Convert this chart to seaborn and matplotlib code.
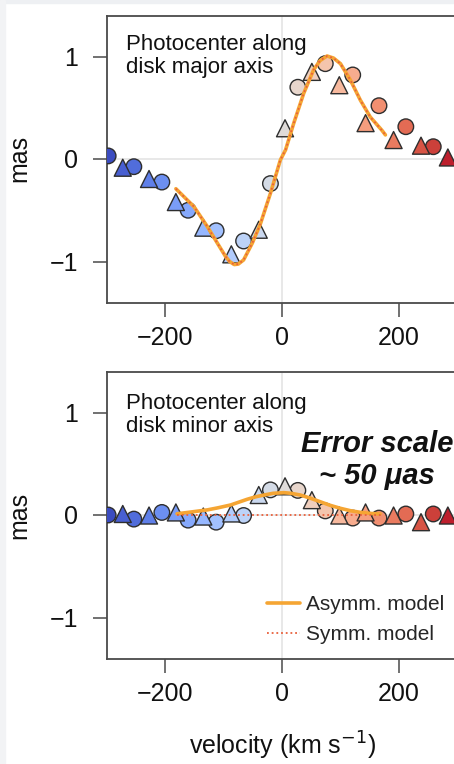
import matplotlib
matplotlib.use("Agg")
import matplotlib.pyplot as plt
from matplotlib.lines import Line2D
from matplotlib.patches import Rectangle
import seaborn as sns
import pandas as pd

# ---------------- data ----------------
circ_v = [-298, -254, -206, -161, -113, -66, -20, 27, 74, 121, 166, 212, 259]
tri_v = [-273, -228, -182, -135, -87, -40, 5, 51, 98, 143, 191, 238, 284]

major_circ = [0.03, -0.075, -0.225, -0.50, -0.70, -0.80, -0.24, 0.70, 0.93, 0.82, 0.52, 0.315, 0.12]
major_tri = [-0.085, -0.195, -0.42, -0.67, -0.93, -0.69, 0.30, 0.85, 0.72, 0.35, 0.185, 0.13, 0.015]

minor_circ = [0.0, -0.04, 0.025, -0.05, -0.07, -0.005, 0.245, 0.24, 0.04, -0.03, -0.03, 0.01, 0.01]
minor_tri = [0.01, -0.005, 0.025, -0.015, 0.015, 0.195, 0.28, 0.145, -0.005, 0.025, -0.005, -0.07, -0.005]

major_model_v = [-182, -151, -128, -111, -97, -90, -82, -75, -66, -51, -37, -20, -3,
                 6, 20, 37, 54, 65, 77, 88, 100, 117, 134, 151, 171, 177]
major_asym = [-0.29, -0.465, -0.66, -0.82, -0.95, -1.00, -1.03, -1.025, -0.985, -0.82, -0.63, -0.335, -0.01,
              0.09, 0.35, 0.64, 0.87, 0.96, 1.005, 0.985, 0.93, 0.77, 0.575, 0.41, 0.28, 0.235]
major_symm = major_asym

minor_asym_v = [-180, -155, -128, -110, -88, -60, -45, -31, -15, 3, 15, 31, 48, 65, 82, 100, 117, 134, 150, 168]
minor_asym = [0.012, 0.03, 0.05, 0.07, 0.098, 0.153, 0.178, 0.195, 0.212, 0.218, 0.212, 0.195, 0.165,
              0.13, 0.095, 0.065, 0.042, 0.026, 0.016, 0.01]
minor_symm_v = [-180, 172]
minor_symm = [0.0, 0.0]

xticks = [-200, 0, 200]
yticks = [-1, 0, 1]

ORANGE = "#F5A533"
RED = "#E8603C"
EDGE = "#2e2e2e"
SPINE = "#4a4a4a"

# ---------------- style ----------------
sns.set_theme(style="ticks")
plt.rcParams["font.family"] = ["Liberation Sans", "DejaVu Sans"]
plt.rcParams["axes.unicode_minus"] = True

W, H = 454, 764
fig = plt.figure(figsize=(W / 100, H / 100), dpi=100)
fig.patch.set_facecolor("white")

# screenshot-like faint borders
fig.patches.append(Rectangle((0, 1 - 3 / H), 1, 3 / H, transform=fig.transFigure,
                             color="#eef0f3", zorder=0))
fig.patches.append(Rectangle((0, 0), 5 / W, 1, transform=fig.transFigure,
                             color="#f2f3f5", zorder=0))

ax_w = 350.2 / W
ax_h = 287 / H
ax1 = fig.add_axes([107 / W, 1 - 302.5 / H, ax_w, ax_h])
ax2 = fig.add_axes([107 / W, 1 - 658.5 / H, ax_w, ax_h])


def panel(ax, circ_y, tri_y):
    df = pd.DataFrame({
        "velocity": circ_v + tri_v,
        "offset": circ_y + tri_y,
        "shape": ["circle"] * len(circ_v) + ["triangle"] * len(tri_v),
    })
    ax.axvline(0, color="#e2e2e2", lw=1.1, zorder=0)
    ax.axhline(0, color="#e2e2e2", lw=1.1, zorder=0)
    sns.scatterplot(data=df, x="velocity", y="offset", hue="velocity",
                    hue_norm=(-300, 300), palette="coolwarm", style="shape",
                    markers={"circle": "o", "triangle": "^"},
                    size="shape", sizes={"circle": 125, "triangle": 150},
                    edgecolor=EDGE, linewidth=1.0, legend=False, ax=ax, zorder=3)
    ax.set_xlim(-300, 300)
    ax.set_ylim(-1.4, 1.4)
    ax.set_xticks(xticks)
    ax.set_yticks(yticks)
    ax.set_xticklabels([f"{t}".replace("-", "\u2212") for t in xticks])
    ax.set_yticklabels([f"{t}".replace("-", "\u2212") for t in yticks])
    ax.set_xlabel("")
    ax.set_ylabel("")
    ax.tick_params(axis="both", direction="out", length=10, width=1.1,
                   color=SPINE, labelsize=18, labelcolor="#111111")
    ax.tick_params(axis="x", pad=7)
    ax.tick_params(axis="y", pad=11)
    for sp in ax.spines.values():
        sp.set_color(SPINE)
        sp.set_linewidth(1.3)


panel(ax1, major_circ, major_tri)
panel(ax2, minor_circ, minor_tri)

# model curves
sns.lineplot(x=major_model_v, y=major_asym, color=ORANGE, lw=2.6, ax=ax1, zorder=4)
sns.lineplot(x=major_model_v, y=major_symm, color=RED, lw=1.3, linestyle=(0, (1, 1.6)),
             ax=ax1, zorder=5)
sns.lineplot(x=minor_asym_v, y=minor_asym, color=ORANGE, lw=2.6, ax=ax2, zorder=4)
sns.lineplot(x=minor_symm_v, y=minor_symm, color=RED, lw=1.3, linestyle=(0, (1, 1.6)),
             ax=ax2, zorder=5)
for ax in (ax1, ax2):
    ax.set_xlabel("")
    ax.set_ylabel("")

# panel annotations
ax1.text(-268, 1.222, "Photocenter along\ndisk major axis", fontsize=16,
         ha="left", va="top", linespacing=1.12, color="#111111", zorder=6)
ax2.text(-268, 1.187, "Photocenter along\ndisk minor axis", fontsize=16,
         ha="left", va="top", linespacing=1.12, color="#111111", zorder=6)
ax2.text(163, 0.69, "Error scale", fontsize=21, fontweight="bold", fontstyle="italic",
         ha="center", va="center", color="#111111", zorder=6)
ax2.text(163, 0.38, "~ 50 \u03bcas", fontsize=21, fontweight="bold", fontstyle="italic",
         ha="center", va="center", color="#111111", zorder=6)

# legend
handles = [Line2D([0], [0], color=ORANGE, lw=2.6),
           Line2D([0], [0], color=RED, lw=1.3, linestyle=(0, (1, 1.6)))]
fig.legend(handles, ["Asymm. model", "Symm. model"], loc="upper left",
           bbox_to_anchor=(267 / W, 1 - 595 / H), frameon=False, fontsize=15,
           borderpad=0, borderaxespad=0, handlelength=1.6, handletextpad=0.25,
           labelspacing=0.55)

# axis labels
fig.text(19 / W, 1 - 158.5 / H, "mas", rotation=90, fontsize=18,
         ha="center", va="center", color="#111111")
fig.text(19 / W, 1 - 515 / H, "mas", rotation=90, fontsize=18,
         ha="center", va="center", color="#111111")
fig.text(282.5 / W, 1 - 746 / H, "velocity (km s$^{-1}$)", fontsize=18,
         ha="center", va="center", color="#111111")

fig.savefig("out.png", dpi=100)
